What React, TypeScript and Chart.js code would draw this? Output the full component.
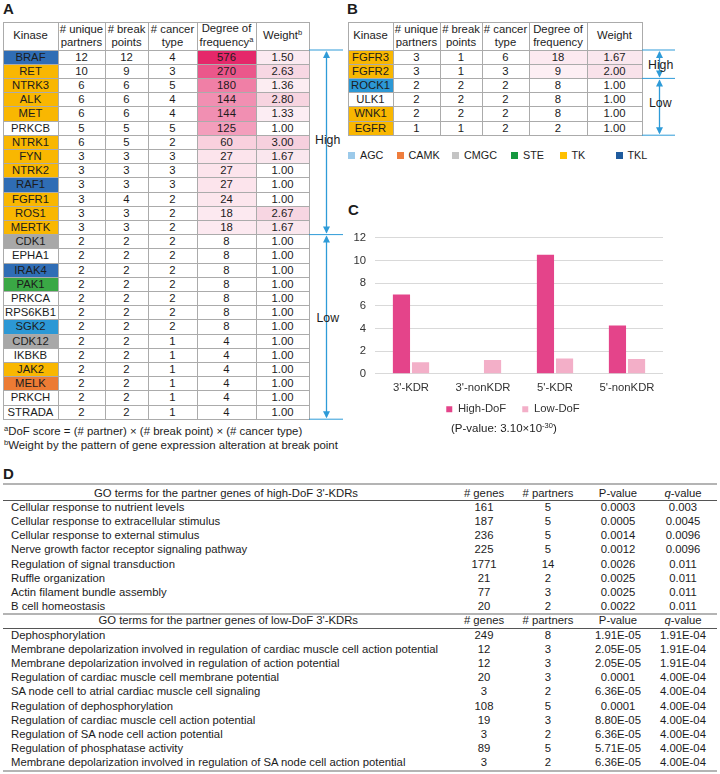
import React, { useEffect, useRef } from "react";
import { Chart, registerables } from "chart.js";
Chart.register(...registerables);

const FONT = '"Liberation Sans", Arial, Helvetica, sans-serif';
const INK = "#1c1c1c";

// ---------------- Panel A data ----------------
const kinasesA = ["BRAF", "RET", "NTRK3", "ALK", "MET", "PRKCB", "NTRK1", "FYN", "NTRK2", "RAF1", "FGFR1", "ROS1", "MERTK", "CDK1", "EPHA1", "IRAK4", "PAK1", "PRKCA", "RPS6KB1", "SGK2", "CDK12", "IKBKB", "JAK2", "MELK", "PRKCH", "STRADA"];
const familiesA = ["TKL", "TK", "TK", "TK", "TK", "", "TK", "TK", "TK", "TKL", "TK", "TK", "TK", "CMGC", "", "TKL", "STE", "", "", "AGC", "CMGC", "", "TK", "CAMK", "", ""];
const partnersA = [12, 10, 6, 6, 6, 5, 6, 3, 3, 3, 3, 3, 3, 2, 2, 2, 2, 2, 2, 2, 2, 2, 2, 2, 2, 2];
const breakPointsA = [12, 9, 6, 6, 6, 5, 5, 3, 3, 3, 4, 3, 3, 2, 2, 2, 2, 2, 2, 2, 2, 2, 2, 2, 2, 2];
const cancerTypesA = [4, 3, 5, 4, 4, 5, 2, 3, 3, 3, 2, 2, 2, 2, 2, 2, 2, 2, 2, 2, 1, 1, 1, 1, 1, 1];
const dofA = [576, 270, 180, 144, 144, 125, 60, 27, 27, 27, 24, 18, 18, 8, 8, 8, 8, 8, 8, 8, 4, 4, 4, 4, 4, 4];
const weightsA = ["1.50", "2.63", "1.36", "2.80", "1.33", "1.00", "3.00", "1.67", "1.00", "1.00", "1.00", "2.67", "1.67", "1.00", "1.00", "1.00", "1.00", "1.00", "1.00", "1.00", "1.00", "1.00", "1.00", "1.00", "1.00", "1.00"];
const highCountA = 13;

// ---------------- Panel B data ----------------
const kinasesB = ["FGFR3", "FGFR2", "ROCK1", "ULK1", "WNK1", "EGFR"];
const familiesB = ["TK", "TK", "AGC", "", "TK", "TK"];
const partnersB = [3, 3, 2, 2, 2, 1];
const breakPointsB = [1, 1, 2, 2, 2, 1];
const cancerTypesB = [6, 3, 2, 2, 2, 2];
const dofB = [18, 9, 8, 8, 8, 2];
const weightsB = ["1.67", "2.00", "1.00", "1.00", "1.00", "1.00"];
const highCountB = 2;

const legendFamilies = ["AGC", "CAMK", "CMGC", "STE", "TK", "TKL"];

// ---------------- Panel C data ----------------
const categoriesC = ["3'-KDR", "3'-nonKDR", "5'-KDR", "5'-nonKDR"];
const highDoF = [7.0, 0, 10.5, 4.25];
const lowDoF = [1.0, 1.2, 1.35, 1.3];
const yTicksC = [0, 2, 4, 6, 8, 10, 12];

// ---------------- Panel D data ----------------
const highTerms = ["Cellular response to nutrient levels", "Cellular response to extracellular stimulus", "Cellular response to external stimulus", "Nerve growth factor receptor signaling pathway", "Regulation of signal transduction", "Ruffle organization", "Actin filament bundle assembly", "B cell homeostasis"];
const highGenes = [161, 187, 236, 225, 1771, 21, 77, 20];
const highPartners = [5, 5, 5, 5, 14, 2, 3, 2];
const highP = ["0.0003", "0.0005", "0.0014", "0.0012", "0.0026", "0.0025", "0.0025", "0.0022"];
const highQ = ["0.003", "0.0045", "0.0096", "0.0096", "0.011", "0.011", "0.011", "0.011"];

const lowTerms = ["Dephosphorylation", "Membrane depolarization involved in regulation of cardiac muscle cell action potential", "Membrane depolarization involved in regulation of action potential", "Regulation of cardiac muscle cell membrane potential", "SA node cell to atrial cardiac muscle cell signaling", "Regulation of dephosphorylation", "Regulation of cardiac muscle cell action potential", "Regulation of SA node cell action potential", "Regulation of phosphatase activity", "Membrane depolarization involved in regulation of SA node cell action potential"];
const lowGenes = [249, 12, 12, 20, 3, 108, 19, 3, 89, 3];
const lowPartners = [8, 3, 3, 3, 2, 5, 3, 2, 5, 2];
const lowP = ["1.91E-05", "2.05E-05", "2.05E-05", "0.0001", "6.36E-05", "0.0001", "8.80E-05", "6.36E-05", "5.71E-05", "6.36E-05"];
const lowQ = ["1.91E-04", "1.91E-04", "1.91E-04", "4.00E-04", "4.00E-04", "4.00E-04", "4.00E-04", "4.00E-04", "4.00E-04", "4.00E-04"];

// ---------------- styles ----------------
const familyCellColor: Record<string, string> = {
  AGC: "#2c98d5",
  CAMK: "#ec7b34",
  CMGC: "#a8a8a8",
  STE: "#3aa845",
  TK: "#f9b701",
  TKL: "#2f6db5",
};
const familyLegendColor: Record<string, string> = {
  AGC: "#9ccaea",
  CAMK: "#ef7d3c",
  CMGC: "#c4c4c4",
  STE: "#15983f",
  TK: "#ffc000",
  TKL: "#1f5b9e",
};
const ARROW = "#2e9bd8";
const GRID = "#ababab";

function mix(a: number[], t: number) {
  const c = a.map((v) => Math.round(255 + (v - 255) * t));
  return `rgb(${c[0]},${c[1]},${c[2]})`;
}
const DEEP = [229, 40, 106];
const dofStops = [0, 60, 144, 270, 576];
const dofT = [0.05, 0.22, 0.52, 0.78, 1];
function dofColor(v: number) {
  for (let i = 1; i < dofStops.length; i++) {
    if (v <= dofStops[i]) {
      const f = (v - dofStops[i - 1]) / (dofStops[i] - dofStops[i - 1]);
      return mix(DEEP, dofT[i - 1] + f * (dofT[i] - dofT[i - 1]));
    }
  }
  return mix(DEEP, 1);
}
function weightColor(w: number) {
  if (w <= 1) return "#ffffff";
  return mix([246, 208, 222], 0.25 + 0.75 * (w - 1) / 2);
}

function Txt(props: { x: number; cy: number; align?: "left" | "center" | "right"; size?: number; w?: number; bold?: boolean; children: React.ReactNode }) {
  const { x, cy, align = "left", size = 11.3, w = 420, bold, children } = props;
  const lh = size * 1.2;
  let left = x;
  if (align === "center") left = x - w / 2;
  if (align === "right") left = x - w;
  return (
    <div style={{ position: "absolute", left, top: cy - lh / 2, width: w, height: lh, lineHeight: lh + "px", fontSize: size, textAlign: align, whiteSpace: "nowrap", fontWeight: bold ? "bold" : "normal", color: INK }}>
      {children}
    </div>
  );
}

function HLine({ x1, x2, y, color, th = 1 }: { x1: number; x2: number; y: number; color: string; th?: number }) {
  return <div style={{ position: "absolute", left: x1, top: Math.round(y - th / 2), width: x2 - x1, height: th, background: color }} />;
}
function VLine({ y1, y2, x, color }: { y1: number; y2: number; x: number; color: string }) {
  return <div style={{ position: "absolute", left: Math.round(x - 0.5), top: y1, width: 1, height: y2 - y1, background: color }} />;
}

const Sup = ({ c }: { c: string }) => <span style={{ fontSize: 7.5, position: "relative", top: -4 }}>{c}</span>;

function KinaseTable(props: {
  left: number; top: number; colW: number[]; headH: number; rowH: number; head: React.ReactNode[];
  kin: string[]; fam: string[]; p: number[]; b: number[]; c: number[]; dof: number[]; w: string[]; highN: number;
}) {
  const { left, top, colW, headH, rowH, head, kin, fam, p, b, c, dof, w, highN } = props;
  const xs = [left];
  colW.forEach((cw) => xs.push(xs[xs.length - 1] + cw));
  const right = xs[xs.length - 1];
  const bottom = top + headH + kin.length * rowH;
  const els: React.ReactNode[] = [];
  head.forEach((h, i) =>
    els.push(
      <div key={"h" + i} style={{ position: "absolute", left: xs[i], top, width: colW[i], height: headH, display: "flex", alignItems: "center", justifyContent: "center", textAlign: "center", lineHeight: "13.4px", fontSize: 11.3, color: INK, background: "#fff" }}>
        <div>{h}</div>
      </div>
    )
  );
  kin.forEach((k, r) => {
    const y = top + headH + r * rowH;
    const vals: (string | number)[] = [k, p[r], b[r], c[r], dof[r], w[r]];
    const bgs = [
      fam[r] ? familyCellColor[fam[r]] : "#fff",
      "#fff", "#fff", "#fff",
      r < highN ? dofColor(dof[r]) : "#fff",
      r < highN ? weightColor(parseFloat(w[r])) : "#fff",
    ];
    vals.forEach((v, i) =>
      els.push(
        <div key={`c${r}_${i}`} style={{ position: "absolute", left: xs[i], top: y, width: colW[i], height: rowH, background: bgs[i], display: "flex", alignItems: "center", justifyContent: "center", fontSize: 11.3, color: INK, lineHeight: "13px" }}>
          {v}
        </div>
      )
    );
  });
  const ys = [top, top + headH];
  kin.forEach((_, r) => ys.push(top + headH + (r + 1) * rowH));
  ys.forEach((y, i) => els.push(<HLine key={"hl" + i} x1={left} x2={right + 1} y={y} color={GRID} />));
  xs.forEach((x, i) => els.push(<VLine key={"vl" + i} x={x} y1={top} y2={bottom} color={GRID} />));
  return <>{els}</>;
}

function DoubleArrow({ x, y1, y2 }: { x: number; y1: number; y2: number }) {
  const a = 7;
  return (
    <>
      <line x1={x} x2={x} y1={y1 + 2} y2={y2 - 2} stroke={ARROW} strokeWidth={1.3} />
      <polygon points={`${x},${y1 + 1} ${x - 3.5},${y1 + 1 + a} ${x + 3.5},${y1 + 1 + a}`} fill={ARROW} />
      <polygon points={`${x},${y2 - 1} ${x - 3.5},${y2 - 1 - a} ${x + 3.5},${y2 - 1 - a}`} fill={ARROW} />
    </>
  );
}

// widen the label clip boxes of the axes so the tick labels are not cut off
const unclipAxes = {
  id: "unclipAxes",
  afterLayout(chart: any) {
    const y = chart.scales.y;
    const x = chart.scales.x;
    if (y) y.left = 0;
    if (x) x.bottom = x.top + 30;
  },
};

function BarChartC() {
  const ref = useRef<HTMLCanvasElement>(null);
  useEffect(() => {
    const tickFont = { family: FONT, size: 11.3 };
    const chart = new Chart(ref.current!, {
      type: "bar",
      data: {
        labels: categoriesC,
        datasets: [
          { label: "High-DoF", data: highDoF, backgroundColor: "#e4448a", categoryPercentage: 0.53, barPercentage: 0.9 },
          { label: "Low-DoF", data: lowDoF, backgroundColor: "#f3afc8", categoryPercentage: 0.53, barPercentage: 0.9 },
        ],
      },
      options: {
        responsive: false,
        animation: false,
        devicePixelRatio: 1,
        layout: { padding: { left: 23, right: 23, top: 11, bottom: 0 } },
        plugins: {
          legend: {
            position: "bottom",
            labels: { boxWidth: 6, boxHeight: 6, padding: 16, color: "#333", font: tickFont },
          },
          tooltip: { enabled: false },
        },
        scales: {
          x: {
            grid: { display: false, drawTicks: false },
            border: { display: false },
            ticks: { padding: 7, color: "#333", font: tickFont },
            afterFit: (s: any) => { s.height = 14; },
          },
          y: {
            min: 0,
            max: 12,
            afterBuildTicks: (s: any) => { s.ticks = yTicksC.map((v) => ({ value: v })); },
            ticks: { padding: 9, color: "#333", font: tickFont },
            grid: { color: "#d9d9d9", drawTicks: false },
            border: { display: false },
            afterFit: (s: any) => { s.width = 12; },
          },
        },
      },
      plugins: [unclipAxes],
    } as any);
    return () => chart.destroy();
  }, []);
  return <canvas ref={ref} width={346} height={203} style={{ position: "absolute", left: 340, top: 222, width: 346, height: 203 }} />;
}

export default function App() {
  const rowH = 14.2;
  const aTop = 22, headH = 28;
  const aHighEnd = aTop + headH + highCountA * rowH;
  const aEnd = aTop + headH + kinasesA.length * rowH;
  const bHighEnd = aTop + headH + highCountB * rowH;
  const bEnd = aTop + headH + kinasesB.length * rowH;

  const headA: React.ReactNode[] = [
    "Kinase",
    <>
      # unique<br />partners
    </>,
    <>
      # break<br />points
    </>,
    <>
      # cancer<br />type
    </>,
    <>
      Degree of<br />frequency<Sup c="a" />
    </>,
    <>
      Weight<Sup c="b" />
    </>,
  ];
  const headB: React.ReactNode[] = [
    "Kinase",
    <>
      # unique<br />partners
    </>,
    <>
      # break<br />points
    </>,
    <>
      # cancer<br />type
    </>,
    <>
      Degree of<br />frequency
    </>,
    "Weight",
  ];

  const legendX = [348, 396.5, 452, 511, 559.5, 615.5];

  const dCols = [484, 548, 618, 683];
  const hdr1 = 493.3;
  const highRow0 = 507.5;
  const hdr2 = highRow0 + highTerms.length * rowH;
  const lowRow0 = hdr2 + rowH;
  const dBottom = lowRow0 + (lowTerms.length - 1) * rowH + 7.5;

  const dHeader = (cy: number, title: string, key: string) => (
    <React.Fragment key={key}>
      <Txt x={358} cy={cy} align="right" w={400}>{title}</Txt>
      <Txt x={dCols[0]} cy={cy} align="center" w={80}># genes</Txt>
      <Txt x={dCols[1]} cy={cy} align="center" w={80}># partners</Txt>
      <Txt x={dCols[2]} cy={cy} align="center" w={80}>P-value</Txt>
      <Txt x={dCols[3]} cy={cy} align="center" w={80}><i>q</i>-value</Txt>
    </React.Fragment>
  );
  const dRows = (y0: number, terms: string[], g: number[], pa: number[], pv: string[], qv: string[], key: string) =>
    terms.map((t, i) => {
      const cy = y0 + i * rowH;
      return (
        <React.Fragment key={key + i}>
          <Txt x={11} cy={cy} w={460}>{t}</Txt>
          <Txt x={dCols[0]} cy={cy} align="center" w={60}>{g[i]}</Txt>
          <Txt x={dCols[1]} cy={cy} align="center" w={60}>{pa[i]}</Txt>
          <Txt x={dCols[2]} cy={cy} align="center" w={70}>{pv[i]}</Txt>
          <Txt x={dCols[3]} cy={cy} align="center" w={70}>{qv[i]}</Txt>
        </React.Fragment>
      );
    });

  return (
    <div style={{ position: "absolute", left: 0, top: 0, width: 720, height: 774, background: "#fff", overflow: "hidden", fontFamily: FONT, color: INK }}>
      {/* Panel labels */}
      <Txt x={3} cy={9} size={15} bold>A</Txt>
      <Txt x={347} cy={9} size={15} bold>B</Txt>
      <Txt x={348} cy={210} size={15} bold>C</Txt>
      <Txt x={3} cy={474} size={15} bold>D</Txt>

      {/* Table A */}
      <KinaseTable left={3} top={aTop} colW={[55, 47, 43, 49, 59, 53]} headH={headH} rowH={rowH} head={headA}
        kin={kinasesA} fam={familiesA} p={partnersA} b={breakPointsA} c={cancerTypesA} dof={dofA} w={weightsA} highN={highCountA} />

      {/* Table B */}
      <KinaseTable left={348} top={aTop} colW={[45, 47, 42, 47, 58, 55]} headH={headH} rowH={rowH} head={headB}
        kin={kinasesB} fam={familiesB} p={partnersB} b={breakPointsB} c={cancerTypesB} dof={dofB} w={weightsB} highN={highCountB} />

      {/* arrows */}
      <svg width={720} height={774} style={{ position: "absolute", left: 0, top: 0 }}>
        <line x1={309} x2={343} y1={aTop + headH} y2={aTop + headH} stroke={ARROW} strokeWidth={1} />
        <line x1={309} x2={343} y1={aHighEnd} y2={aHighEnd} stroke={ARROW} strokeWidth={1} />
        <line x1={309} x2={343} y1={aEnd} y2={aEnd} stroke={ARROW} strokeWidth={1} />
        <DoubleArrow x={326.5} y1={aTop + headH} y2={aHighEnd} />
        <DoubleArrow x={326.5} y1={aHighEnd} y2={aEnd} />
        <line x1={642} x2={675} y1={aTop + headH} y2={aTop + headH} stroke={ARROW} strokeWidth={1} />
        <line x1={642} x2={675} y1={bHighEnd} y2={bHighEnd} stroke={ARROW} strokeWidth={1} />
        <line x1={642} x2={675} y1={bEnd} y2={bEnd} stroke={ARROW} strokeWidth={1} />
        <DoubleArrow x={659.5} y1={aTop + headH} y2={bHighEnd} />
        <DoubleArrow x={659.5} y1={bHighEnd} y2={bEnd} />
      </svg>
      <Txt x={315} cy={140} size={12.3}>High</Txt>
      <Txt x={316.5} cy={318.3} size={12.3}>Low</Txt>
      <Txt x={648} cy={65} size={12.3}>High</Txt>
      <Txt x={649} cy={103} size={12.3}>Low</Txt>

      {/* family legend */}
      {legendFamilies.map((f, i) => (
        <React.Fragment key={f}>
          <div style={{ position: "absolute", left: legendX[i], top: 152.2, width: 7, height: 7, background: familyLegendColor[f] }} />
          <Txt x={legendX[i] + 12} cy={155.7} size={10.8} w={60}>{f}</Txt>
        </React.Fragment>
      ))}

      {/* footnotes */}
      <Txt x={4} cy={431.7} size={11.4} w={420}><Sup c="a" />DoF score = (# partner) × (# break point) × (# cancer type)</Txt>
      <Txt x={4} cy={445.7} size={11.4} w={420}><Sup c="b" />Weight by the pattern of gene expression alteration at break point</Txt>

      {/* Panel C chart */}
      <BarChartC />
      <Txt x={451} cy={428.5} size={11.5} w={200}>
        (P-value: 3.10×10<Sup c="-30" />)
      </Txt>

      {/* Panel D table */}
      <HLine x1={3} x2={717} y={484} color="#b4b4b4" th={2} />
      {dHeader(hdr1, "GO terms for the partner genes of high-DoF 3'-KDRs", "h1")}
      <HLine x1={3} x2={717} y={500.5} color="#555" />
      {dRows(highRow0, highTerms, highGenes, highPartners, highP, highQ, "hr")}
      <HLine x1={3} x2={717} y={hdr2 - 7.2} color="#b4b4b4" th={2} />
      {dHeader(hdr2, "GO terms for the partner genes of low-DoF 3'-KDRs", "h2")}
      <HLine x1={3} x2={717} y={hdr2 + 7.4} color="#555" />
      {dRows(lowRow0, lowTerms, lowGenes, lowPartners, lowP, lowQ, "lr")}
      <HLine x1={3} x2={717} y={dBottom} color="#b4b4b4" th={2} />
    </div>
  );
}
